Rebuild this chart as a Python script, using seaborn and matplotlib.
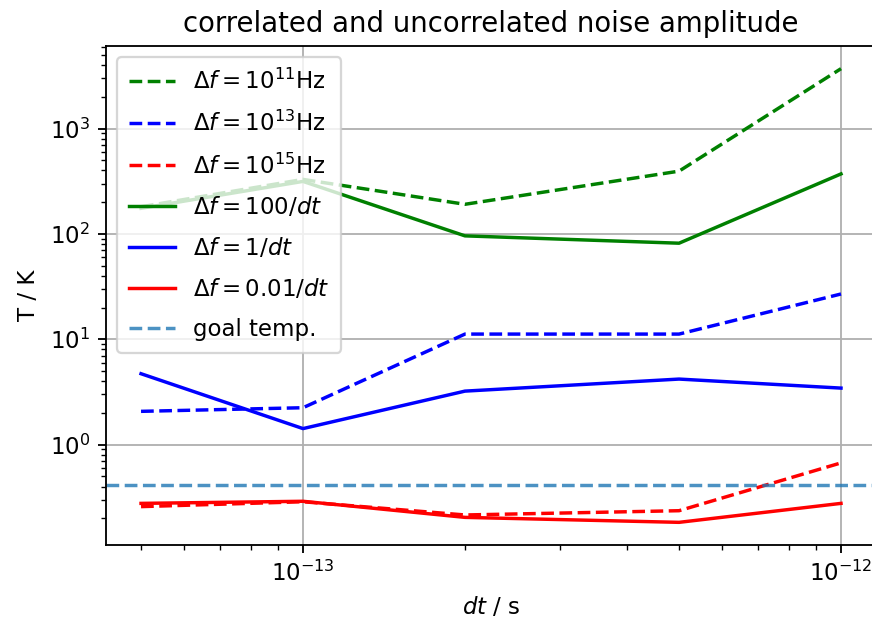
import matplotlib
matplotlib.use("Agg")
import matplotlib.pyplot as plt
import seaborn as sns
import numpy as np

# time step of the simulation runs (s)
dt = [5e-14, 1e-13, 2e-13, 5e-13, 1e-12]

# correlated noise: fixed bandwidth
T_df_1e11 = [181, 329, 191, 394, 3700]
T_df_1e13 = [2.07, 2.24, 11.2, 11.2, 26.9]
T_df_1e15 = [0.258, 0.287, 0.215, 0.236, 0.671]

# uncorrelated noise: bandwidth tied to dt
T_df_100_dt = [175, 315, 95.8, 81.6, 371]
T_df_1_dt = [4.71, 1.42, 3.22, 4.19, 3.44]
T_df_001_dt = [0.277, 0.29, 0.204, 0.183, 0.277]

goal_temp = 0.413

series = [
    (T_df_1e11, "g", "--", r"$\Delta f = 10^{11}$Hz"),
    (T_df_1e13, "b", "--", r"$\Delta f = 10^{13}$Hz"),
    (T_df_1e15, "r", "--", r"$\Delta f = 10^{15}$Hz"),
    (T_df_100_dt, "g", "-", r"$\Delta f = 100/dt$"),
    (T_df_1_dt, "b", "-", r"$\Delta f = 1/dt$"),
    (T_df_001_dt, "r", "-", r"$\Delta f = 0.01/dt$"),
]

plt.rcdefaults()
dpi = 165
fig = plt.figure(figsize=(872 / dpi, 629 / dpi), dpi=dpi)
ax = fig.add_axes([0.1216, 0.1335, 0.883, 0.7934])
ax.set_xscale("log")
ax.set_yscale("log")

for vals, col, ls, lab in series:
    sns.lineplot(x=dt, y=vals, color=col, linestyle=ls, label=lab, ax=ax,
                 linewidth=1.5)

ax.axhline(goal_temp, color="C0", linestyle="--", alpha=0.8, label="goal temp.")

ax.grid(True, which="major")
ax.set_title("correlated and uncorrelated noise amplitude")
ax.set_xlabel(r"$dt$ / s")
ax.set_ylabel("T / K")
ax.legend(loc="upper left", labelspacing=0.74, borderpad=0.5)

fig.savefig("out.png", dpi=dpi)
